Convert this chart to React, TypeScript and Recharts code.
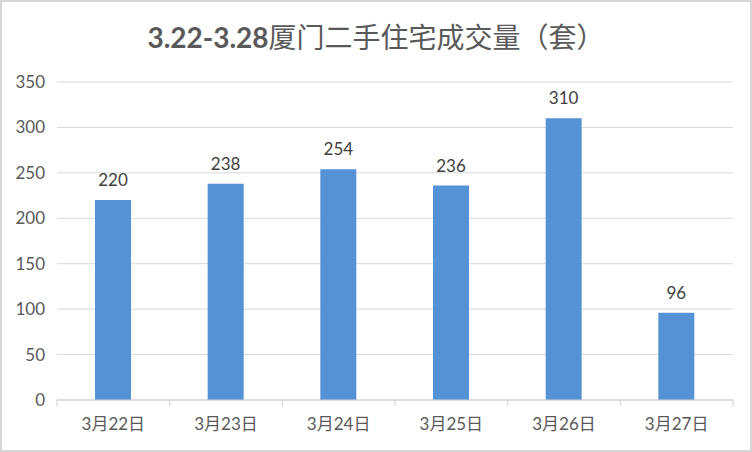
import { BarChart, Bar, XAxis, YAxis, CartesianGrid, LabelList } from 'recharts'

const days = ['3月22日', '3月23日', '3月24日', '3月25日', '3月26日', '3月27日']
const volumes = [220, 238, 254, 236, 310, 96]
const yTicks = [0, 50, 100, 150, 200, 250, 300, 350]

const data = days.map((day, i) => ({ day, volume: volumes[i] }))

const FONT = "Lato, 'Noto Sans CJK SC', sans-serif"
const BAND = 676 / days.length

function DayTick(props: any) {
  const { x, y, payload, index } = props
  const half = BAND / 2
  return (
    <g>
      <line x1={x - half} y1={y - 8} x2={x - half} y2={y - 2} stroke="#d0d0d0" />
      {index === days.length - 1 && (
        <line x1={x + half} y1={y - 8} x2={x + half} y2={y - 2} stroke="#d0d0d0" />
      )}
      <text x={x} y={y + 22} textAnchor="middle" fill="#595959" fontSize={17} fontFamily={FONT}>
        {payload.value}
      </text>
    </g>
  )
}

export default function App() {
  return (
    <div
      style={{
        position: 'absolute',
        left: 0,
        top: 0,
        width: 752,
        height: 452,
        boxSizing: 'border-box',
        border: '2px solid #d6d6d6',
        background: '#ffffff',
        fontFamily: FONT,
      }}
    >
      <div
        style={{
          position: 'absolute',
          left: 0,
          right: 0,
          top: 14,
          textAlign: 'center',
          fontSize: 28,
          color: '#595959',
        }}
      >
        <span style={{ fontWeight: 'bold' }}>3.22-3.28</span>
        厦门二手住宅成交量（套）
      </div>
      <div style={{ position: 'absolute', left: -2, top: -2 }}>
        <BarChart
          width={752}
          height={452}
          data={data}
          margin={{ top: 82, right: 19, bottom: 22, left: 0 }}
          barSize={36}
        >
          <CartesianGrid vertical={false} stroke="#d9d9d9" />
          <XAxis
            dataKey="day"
            height={30}
            axisLine={{ stroke: '#d0d0d0' }}
            tickLine={false}
            tick={<DayTick />}
            interval={0}
          />
          <YAxis
            width={57}
            domain={[0, 350]}
            ticks={yTicks}
            axisLine={false}
            tickLine={false}
            tickSize={0}
            tickMargin={12}
            tick={{ fill: '#595959', fontSize: 17, fontFamily: FONT }}
          />
          <Bar dataKey="volume" fill="#5591d5" isAnimationActive={false}>
            <LabelList
              dataKey="volume"
              position="top"
              offset={14}
              fill="#404040"
              fontSize={17}
              fontFamily={FONT}
            />
          </Bar>
        </BarChart>
      </div>
    </div>
  )
}
